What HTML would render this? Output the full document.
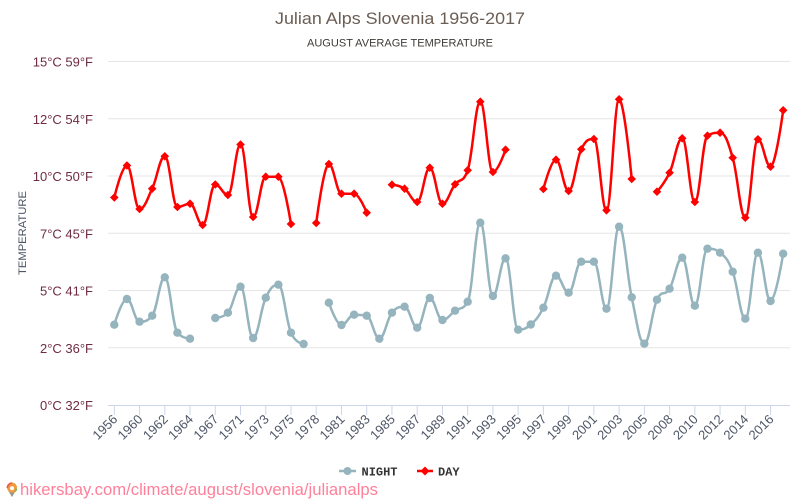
<!DOCTYPE html>
<html><head><meta charset="utf-8">
<style>
html,body{margin:0;padding:0;background:#fff;}
svg{display:block;font-family:"Liberation Sans",sans-serif;}
</style></head><body>
<svg id="c" width="800" height="500" viewBox="0 0 800 500" xmlns="http://www.w3.org/2000/svg">
<rect width="800" height="500" fill="#fff"/>
<text x="400" y="24" text-anchor="middle" font-size="17" fill="#6b5e55" textLength="250" lengthAdjust="spacingAndGlyphs">Julian Alps Slovenia 1956-2017</text>
<text x="400" y="46.5" text-anchor="middle" font-size="11" fill="#3f3a36" textLength="186" lengthAdjust="spacingAndGlyphs">AUGUST AVERAGE TEMPERATURE</text>

<g stroke="#e6e6e6" stroke-width="1">
<line x1="108" x2="790" y1="61.5" y2="61.5"/>
<line x1="108" x2="790" y1="118.75" y2="118.75"/>
<line x1="108" x2="790" y1="176" y2="176"/>
<line x1="108" x2="790" y1="233.25" y2="233.25"/>
<line x1="108" x2="790" y1="290.5" y2="290.5"/>
<line x1="108" x2="790" y1="347.75" y2="347.75"/>
</g>

<g font-size="13" fill="#6e2b42" text-anchor="end">
<text x="93" y="66.5">15°C 59°F</text>
<text x="93" y="123.75">12°C 54°F</text>
<text x="93" y="181">10°C 50°F</text>
<text x="93" y="238.25">7°C 45°F</text>
<text x="93" y="295.5">5°C 41°F</text>
<text x="93" y="352.75">2°C 36°F</text>
<text x="93" y="410">0°C 32°F</text>
</g>

<text transform="translate(26,233) rotate(-90)" text-anchor="middle" font-size="11" fill="#4d5566" textLength="84" lengthAdjust="spacingAndGlyphs">TEMPERATURE</text>

<line x1="108" x2="790" y1="405.5" y2="405.5" stroke="#ccd6eb" stroke-width="1"/>
<g id="ticks" stroke="#ccd6eb" stroke-width="1"></g>

<g font-size="13" fill="#4d5566" text-anchor="end">
<text x="118.3" y="420" transform="rotate(-45 118.3 420)">1956</text>
<text x="143.5" y="420" transform="rotate(-45 143.5 420)">1960</text>
<text x="168.8" y="420" transform="rotate(-45 168.8 420)">1962</text>
<text x="194.0" y="420" transform="rotate(-45 194.0 420)">1964</text>
<text x="219.3" y="420" transform="rotate(-45 219.3 420)">1967</text>
<text x="244.5" y="420" transform="rotate(-45 244.5 420)">1971</text>
<text x="269.7" y="420" transform="rotate(-45 269.7 420)">1973</text>
<text x="295.0" y="420" transform="rotate(-45 295.0 420)">1975</text>
<text x="320.2" y="420" transform="rotate(-45 320.2 420)">1978</text>
<text x="345.5" y="420" transform="rotate(-45 345.5 420)">1981</text>
<text x="370.7" y="420" transform="rotate(-45 370.7 420)">1983</text>
<text x="395.9" y="420" transform="rotate(-45 395.9 420)">1985</text>
<text x="421.2" y="420" transform="rotate(-45 421.2 420)">1987</text>
<text x="446.4" y="420" transform="rotate(-45 446.4 420)">1989</text>
<text x="471.7" y="420" transform="rotate(-45 471.7 420)">1991</text>
<text x="496.9" y="420" transform="rotate(-45 496.9 420)">1993</text>
<text x="522.1" y="420" transform="rotate(-45 522.1 420)">1995</text>
<text x="547.4" y="420" transform="rotate(-45 547.4 420)">1997</text>
<text x="572.6" y="420" transform="rotate(-45 572.6 420)">1999</text>
<text x="597.9" y="420" transform="rotate(-45 597.9 420)">2001</text>
<text x="623.1" y="420" transform="rotate(-45 623.1 420)">2003</text>
<text x="648.3" y="420" transform="rotate(-45 648.3 420)">2005</text>
<text x="673.6" y="420" transform="rotate(-45 673.6 420)">2008</text>
<text x="698.8" y="420" transform="rotate(-45 698.8 420)">2010</text>
<text x="724.1" y="420" transform="rotate(-45 724.1 420)">2012</text>
<text x="749.3" y="420" transform="rotate(-45 749.3 420)">2014</text>
<text x="774.5" y="420" transform="rotate(-45 774.5 420)">2016</text>
</g>

<g id="series"></g>

<!-- legend -->
<line x1="339" x2="356" y1="471" y2="471" stroke="#95b4bd" stroke-width="2.5"/>
<circle cx="347.5" cy="471" r="4" fill="#95b4bd"/>
<text x="361.5" y="475.5" font-family="'Liberation Mono',monospace" font-weight="bold" font-size="12" fill="#333">NIGHT</text>
<line x1="417" x2="433" y1="471" y2="471" stroke="#ff0000" stroke-width="2.5"/>
<path d="M425 466.5 L429.5 471 L425 475.5 L420.5 471 Z" fill="#ff0000"/>
<text x="438" y="475.5" font-family="'Liberation Mono',monospace" font-weight="bold" font-size="12" fill="#333">DAY</text>

<!-- footer -->
<path d="M12 497 L8 490.5 A5 5 0 1 1 16 490.5 Z" fill="#f39a3c"/>
<path d="M12 497 L9.5 492.5 L14.5 492.5 Z" fill="#8a9a9e"/>
<path d="M7.3 488 A5 5 0 0 1 12 483" stroke="#ee5a4a" stroke-width="1.6" fill="none"/>
<path d="M16.5 488.5 A5 5 0 0 1 15 491.5" stroke="#7ab55c" stroke-width="1.6" fill="none"/>
<circle cx="12" cy="488.3" r="2" fill="#fff"/>
<text x="20" y="495" font-size="17" fill="#ff809a" textLength="358" lengthAdjust="spacingAndGlyphs">hikersbay.com/climate/august/slovenia/julianalps</text>
</svg>
<script>
(function(){
var NS="http://www.w3.org/2000/svg";
var x0=114.31, dx=12.62;
var day=[197.5,165.5,209,188.7,156.3,207,203.7,225,184.5,195,144.5,217,176.7,176.7,224,null,223,164,193.7,193.7,212.7,null,184.7,188.7,202,167.7,203.7,184.3,170.3,101.7,172,149.7,null,null,189,159.7,191,149.3,139,210.3,99.3,179,null,191.7,172.7,138.3,202,135.7,132.7,157.7,217.7,139.3,166.7,110.3];
var night=[324.7,299,321.7,315.7,277.3,332.7,338.7,null,318,312.7,286.7,338,297.7,284.7,332.7,344,null,302.7,325,314.7,315.7,338.7,312.7,306.7,327.7,298,320,310.7,301.7,222.7,296,258.3,329.7,324.5,307.7,275.7,292.7,261.7,261.7,308.7,226.7,297.3,343.7,299.7,288.7,257.7,305.7,248.7,252.7,271.7,318.7,252.7,301,253.7];
var ticks=document.getElementById('ticks');
for(var k=0;k<27;k++){var tx=x0+k*2*dx;var l=document.createElementNS(NS,'line');l.setAttribute('x1',tx);l.setAttribute('x2',tx);l.setAttribute('y1',405);l.setAttribute('y2',415);ticks.appendChild(l);}
function spline(pts){
  var d='',s=1.5,den=2.5,rc=[];
  for(var i=0;i<pts.length;i++){
    var x=pts[i][0],y=pts[i][1],lcx,lcy,rcx,rcy,has=false;
    if(i>0&&i<pts.length-1){
      has=true;
      var lx=pts[i-1][0],ly=pts[i-1][1],nx=pts[i+1][0],ny=pts[i+1][1];
      lcx=(s*x+lx)/den;lcy=(s*y+ly)/den;rcx=(s*x+nx)/den;rcy=(s*y+ny)/den;
      var corr=0;
      if(rcx!==lcx)corr=((rcy-lcy)*(rcx-x))/(rcx-lcx)+y-rcy;
      lcy+=corr;rcy+=corr;
      if(lcy>ly&&lcy>y){lcy=Math.max(ly,y);rcy=2*y-lcy;}
      else if(lcy<ly&&lcy<y){lcy=Math.min(ly,y);rcy=2*y-lcy;}
      if(rcy>ny&&rcy>y){rcy=Math.max(ny,y);lcy=2*y-rcy;}
      else if(rcy<ny&&rcy<y){rcy=Math.min(ny,y);lcy=2*y-rcy;}
      rc[i]=[rcx,rcy];
    }
    if(i===0)d+='M'+x+' '+y;
    else{
      var p=rc[i-1]||pts[i-1];
      var lc=has?[lcx,lcy]:[x,y];
      d+=' C'+p[0]+' '+p[1]+' '+lc[0]+' '+lc[1]+' '+x+' '+y;
    }
  }
  return d;
}
var g=document.getElementById('series');
function draw(data,color,marker){
  var segs=[],cur=[];
  for(var i=0;i<data.length;i++){
    if(data[i]===null){if(cur.length)segs.push(cur);cur=[];}
    else cur.push([x0+i*dx,data[i]]);
  }
  if(cur.length)segs.push(cur);
  segs.forEach(function(sg){
    var p=document.createElementNS(NS,'path');
    p.setAttribute('d',spline(sg));p.setAttribute('fill','none');
    p.setAttribute('stroke',color);p.setAttribute('stroke-width','2.5');
    p.setAttribute('stroke-linejoin','round');p.setAttribute('stroke-linecap','round');
    g.appendChild(p);
  });
  for(var i=0;i<data.length;i++){
    if(data[i]===null)continue;
    var x=x0+i*dx,y=data[i],m;
    if(marker==='circle'){m=document.createElementNS(NS,'circle');m.setAttribute('cx',x);m.setAttribute('cy',y);m.setAttribute('r',4.2);}
    else{m=document.createElementNS(NS,'path');var r=4.3;m.setAttribute('d','M'+x+' '+(y-r)+' L'+(x+r)+' '+y+' L'+x+' '+(y+r)+' L'+(x-r)+' '+y+' Z');}
    m.setAttribute('fill',color);g.appendChild(m);
  }
}
draw(night,'#95b4bd','circle');
draw(day,'#ff0000','diamond');
})();
</script>
</body></html>
